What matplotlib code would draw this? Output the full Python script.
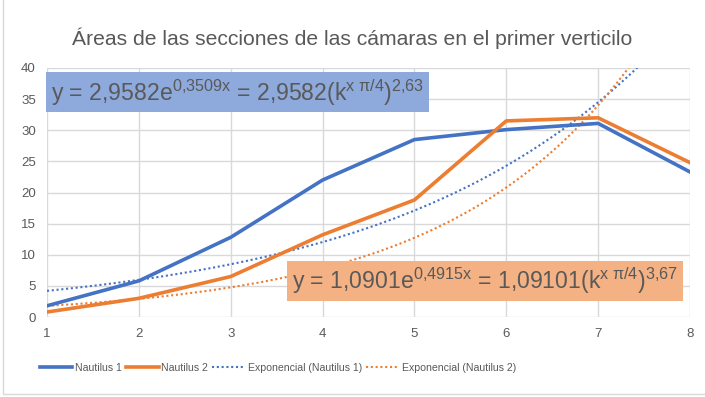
import numpy as np
import matplotlib.pyplot as plt
from matplotlib.patches import Rectangle

plt.rcParams['font.family'] = ['Liberation Sans', 'DejaVu Sans']
plt.rcParams['mathtext.fontset'] = 'custom'
plt.rcParams['mathtext.rm'] = 'Liberation Sans'
plt.rcParams['mathtext.it'] = 'Liberation Sans'

# chamber number and section area
camaras = [1, 2, 3, 4, 5, 6, 7, 8]
nautilus_1 = [1.8, 5.8, 12.8, 22.0, 28.5, 30.1, 31.1, 23.3]
nautilus_2 = [0.8, 3.0, 6.5, 13.2, 18.8, 31.5, 32.0, 24.8]

# exponential trend coefficients (a * e^(b x))
a1, b1 = 2.9582, 0.3509
a2, b2 = 1.0901, 0.4915

azul = '#4472C4'
naranja = '#ED7D31'
gris = '#595959'

fig = plt.figure(figsize=(7.05, 3.97), dpi=100)
ax = fig.add_axes([47 / 705, 1 - 317 / 397, 643 / 705, 249 / 397])

xs = np.linspace(1, 8, 300)
ax.plot(camaras, nautilus_1, color=azul, lw=2.6, label='Nautilus 1', zorder=3)
ax.plot(camaras, nautilus_2, color=naranja, lw=2.6, label='Nautilus 2', zorder=3)
ax.plot(xs, a1 * np.exp(b1 * xs), color=azul, lw=1.5, ls=(0, (1, 1.3)),
        label='Exponencial (Nautilus 1)', zorder=2)
ax.plot(xs, a2 * np.exp(b2 * xs), color=naranja, lw=1.5, ls=(0, (1, 1.3)),
        label='Exponencial (Nautilus 2)', zorder=2)

ax.set_xlim(1, 8)
ax.set_ylim(0, 40)
ax.set_xticks(range(1, 9))
ax.set_yticks(range(0, 41, 5))
ax.grid(True, color='#D9D9D9', lw=1)
ax.set_axisbelow(True)
for s in ax.spines.values():
    s.set_visible(False)
ax.tick_params(length=0, colors=gris, labelsize=9.5, pad=8)

fig.text(0.5, 1 - 38 / 397,
         'Áreas de las secciones de las cámaras en el primer verticilo',
         ha='center', va='center', fontsize=15.2, color=gris)

ax.text(0.006, 0.902,
        r'y = 2,9582e$^{0{,}3509x}$ = 2,9582(k$^{x\ \mathrm{π}/4}$)$^{2{,}63}$',
        transform=ax.transAxes, ha='left', va='center', fontsize=16.6,
        color=gris, zorder=5,
        bbox=dict(boxstyle='square,pad=0.2', fc='#8EA9DB', ec='none'))
ax.text(0.381, 0.144,
        r'y = 1,0901e$^{0{,}4915x}$ = 1,09101(k$^{x\ \mathrm{π}/4}$)$^{3{,}67}$',
        transform=ax.transAxes, ha='left', va='center', fontsize=16.6,
        color=gris, zorder=5,
        bbox=dict(boxstyle='square,pad=0.2', fc='#F4B183', ec='none'))

fig.legend(loc='center left', bbox_to_anchor=(30 / 705, 1 - 368 / 397),
           ncol=4, frameon=False, fontsize=7.6, handlelength=3.1,
           columnspacing=0.4, handletextpad=0.25, labelcolor=gris)

fig.patches.append(Rectangle((3 / 705, 3 / 397), 1.0, 1.0, transform=fig.transFigure,
                             fill=False, ec='#D9D9D9', lw=1))

fig.savefig('out.png', dpi=100)
